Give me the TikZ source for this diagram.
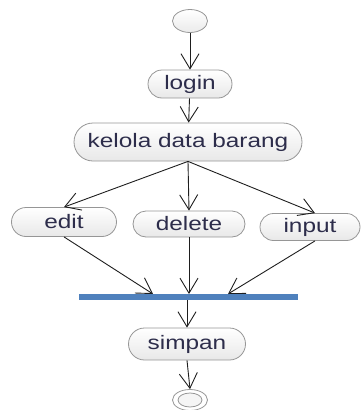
\documentclass[tikz,border=0pt]{standalone}
\usepackage{fontspec}
\newfontfamily\diagfont[FakeStretch=1.25]{Liberation Sans}
\usetikzlibrary{shapes.misc,shapes.geometric,arrows.meta}
\definecolor{txt}{RGB}{45,45,75}
\definecolor{bord}{RGB}{150,150,150}
\definecolor{barblue}{RGB}{79,129,189}
\definecolor{ln}{RGB}{30,30,30}
\begin{document}
\begin{tikzpicture}[x=1pt,y=-1pt,
  act/.style={rounded rectangle, draw=bord, line width=0.8pt, top color=white, bottom color=black!9,
    inner sep=0pt, text=txt, font=\diagfont\fontsize{19.5}{21}\selectfont},
  arr/.style={draw=ln, line width=0.9pt, -{Straight Barb[length=15pt,width=18pt,line width=0.9pt]}}]
\useasboundingbox (0,0) rectangle (361,410);
\node[ellipse, draw=bord, line width=0.8pt, top color=white, bottom color=black!8,
  minimum width=35pt, minimum height=23pt, inner sep=0pt] (start) at (190,21) {};
\node[act, minimum width=84pt, minimum height=28pt] (login) at (190,84) {login};
\node[act, minimum width=228pt, minimum height=38pt] (kelola) at (188,142) {kelola data barang};
\node[act, minimum width=105pt, minimum height=29pt] (edit) at (64,222) {edit};
\node[act, minimum width=112pt, minimum height=26pt] (delete) at (189,224) {delete};
\node[act, minimum width=100pt, minimum height=27pt] (input) at (310,227) {input};
\node[rectangle, fill=barblue, minimum width=219pt, minimum height=6pt, inner sep=0pt] (bar) at (188.5,297) {};
\coordinate (b1) at (153,294);
\coordinate (b2) at (189,294);
\coordinate (b3) at (228,294);
\node[act, minimum width=117pt, minimum height=32pt] (simpan) at (187,344) {simpan};
\node[ellipse, draw=bord, line width=0.8pt, minimum width=35pt, minimum height=21pt, inner sep=0pt] (end) at (190,400) {};
\node[ellipse, draw=bord, line width=0.8pt, fill=black!4, minimum width=24pt, minimum height=14pt, inner sep=0pt] (endin) at (190,400) {};
\draw[arr] (start) -- (login);
\draw[arr] (login) -- (kelola);
\draw[arr] (kelola.south) -- (edit.north);
\draw[arr] (kelola.south) -- (delete.north);
\draw[arr] (kelola.south) -- ([xshift=5pt]input.north);
\draw[arr] (edit.south) -- (b1);
\draw[arr] (delete.south) -- (b2);
\draw[arr] ([xshift=5pt]input.south) -- (b3);
\draw[arr] (bar.south -| simpan.north) -- (simpan.north);
\draw[arr] (simpan.south) -- (end.north);
\end{tikzpicture}
\end{document}
